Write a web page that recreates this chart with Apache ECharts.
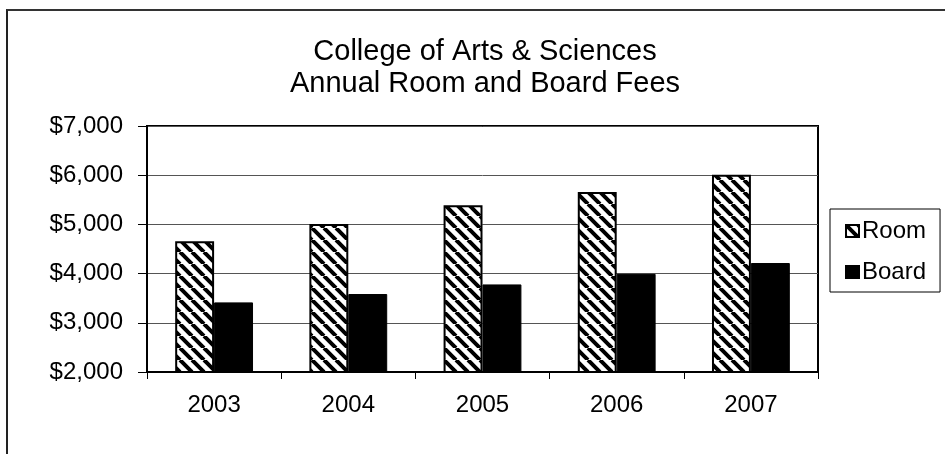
<!DOCTYPE html>
<html>
<head>
<meta charset="utf-8">
<script src="https://cdn.jsdelivr.net/npm/echarts@6/dist/echarts.min.js"></script>
<style>
html,body{margin:0;padding:0;background:#fff;}
#frame{position:absolute;left:6px;top:9px;width:960px;height:460px;border-left:2px solid #222;border-top:2px solid #333;}
#chart{position:absolute;left:0;top:0;width:945px;height:454px;}
</style>
</head>
<body>
<div id="frame"></div>
<div id="chart"></div>
<script>
const titleText = 'College of Arts & Sciences\nAnnual Room and Board Fees';
const categories = ['2003', '2004', '2005', '2006', '2007'];
const roomFees = [4660, 5010, 5390, 5660, 6010];
const boardFees = [3415, 3585, 3780, 3995, 4215];
const seriesNames = ['Room', 'Board'];

function hatch() {
  const c = document.createElement('canvas');
  const s = 12;
  c.width = s; c.height = s;
  const g = c.getContext('2d');
  g.fillStyle = '#fff';
  g.fillRect(0, 0, s, s);
  g.strokeStyle = '#000';
  g.lineWidth = 4;
  g.beginPath();
  for (let k = -1; k <= 1; k++) {
    g.moveTo(k * s, 0);
    g.lineTo(k * s + s, s);
  }
  g.stroke();
  return c;
}

const chart = echarts.init(document.getElementById('chart'), null, {renderer: 'canvas'});
const font = 'Liberation Sans, Arial, sans-serif';
chart.setOption({
  animation: false,
  backgroundColor: 'transparent',
  textStyle: {fontFamily: font, color: '#000'},
  title: {
    text: titleText,
    left: 480,
    textAlign: 'center',
    top: 31,
    textStyle: {fontFamily: font, fontSize: 29, fontWeight: 'normal', color: '#000', lineHeight: 32}
  },
  legend: {
    orient: 'vertical',
    left: 830,
    top: 209,
    padding: [10, 14, 8, 15],
    borderColor: '#000',
    borderWidth: 1,
    itemWidth: 13,
    itemHeight: 12,
    itemGap: 17,
    icon: 'rect',
    textStyle: {fontFamily: font, fontSize: 24, color: '#000', padding: [0,0,0,-2]},
    data: seriesNames
  },
  grid: {
    left: 147, top: 126, width: 671, height: 246,
    show: true, borderColor: '#000', borderWidth: 2, containLabel: false
  },
  xAxis: {
    type: 'category',
    data: categories,
    axisLine: {lineStyle: {color: '#000', width: 2}},
    axisTick: {show: true, length: 7, lineStyle: {color: '#000', width: 1}},
    axisLabel: {fontFamily: font, fontSize: 24, color: '#000', margin: 21}
  },
  yAxis: {
    type: 'value',
    min: 2000, max: 7000, interval: 1000,
    axisLine: {show: true, lineStyle: {color: '#000', width: 2}},
    axisTick: {show: true, length: 9, lineStyle: {color: '#000', width: 1}},
    splitLine: {lineStyle: {color: '#555', width: 1}},
    axisLabel: {
      fontFamily: font, fontSize: 24, color: '#000', margin: 24,
      formatter: v => '$' + v.toLocaleString('en-US')
    }
  },
  series: [
    {
      name: seriesNames[0], type: 'bar', data: roomFees,
      barGap: '0%', barCategoryGap: '42%',
      itemStyle: {color: {image: hatch(), repetition: 'repeat'}, borderColor: '#000', borderWidth: 2}
    },
    {
      name: seriesNames[1], type: 'bar', data: boardFees,
      barGap: '0%', barCategoryGap: '42%',
      itemStyle: {color: '#000', borderColor: '#000', borderWidth: 1}
    }
  ]
});
</script>
</body>
</html>
